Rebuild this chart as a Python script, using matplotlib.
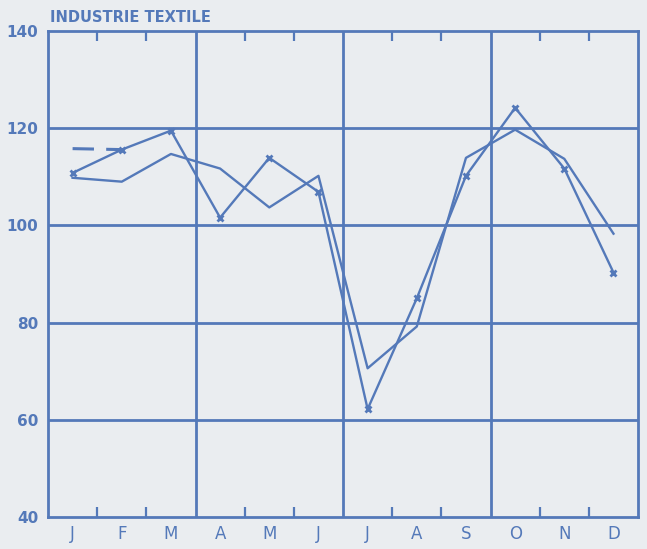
import matplotlib.pyplot as plt
from matplotlib.ticker import FixedLocator

# months and values
months = ['J', 'F', 'M', 'A', 'M', 'J', 'J', 'A', 'S', 'O', 'N', 'D']
series_x = [110.8, 115.6, 119.5, 101.6, 113.9, 106.9, 62.2, 85.0, 110.2, 124.2, 111.7, 90.3]
series_plain = [109.8, 109.0, 114.7, 111.7, 103.7, 110.2, 70.6, 79.2, 113.9, 119.7, 113.7, 98.3]
ref_months = [0, 1]
ref_values = [115.8, 115.6]
y_ticks = [40, 60, 80, 100, 120, 140]

blue = '#5479b9'
bg = '#eaedf0'

fig = plt.figure(figsize=(6.47, 5.49), dpi=100, facecolor=bg)
ax = fig.add_axes([0.0742, 0.0583, 0.912, 0.8852], facecolor=bg)

x = list(range(len(months)))
ax.plot(x, series_x, color=blue, lw=1.7, marker='x', ms=5, mew=2)
ax.plot(x, series_plain, color=blue, lw=1.7)
ax.plot(ref_months, ref_values, color=blue, lw=2.2, dashes=(7, 4))

ax.set_xlim(-0.5, 11.5)
ax.set_ylim(40, 140)

# grid: horizontal every 20, vertical at quarter boundaries
for v in y_ticks[1:-1]:
    ax.axhline(v, color=blue, lw=2, zorder=0)
for q in [2.5, 5.5, 8.5]:
    ax.axvline(q, color=blue, lw=2, zorder=0)

for s in ax.spines.values():
    s.set_color(blue)
    s.set_linewidth(2)

# small inward ticks at month boundaries
ax.xaxis.set_major_locator(FixedLocator(x))
ax.xaxis.set_minor_locator(FixedLocator([0.5, 1.5, 3.5, 4.5, 6.5, 7.5, 9.5, 10.5]))
ax.set_xticklabels(months, fontsize=12, color=blue)
ax.tick_params(axis='x', which='major', length=0, pad=6)
ax.tick_params(axis='x', which='minor', direction='in', length=7, width=1.6,
               color=blue, top=True, bottom=True)

ax.set_yticks(y_ticks)
ax.set_yticklabels([str(v) for v in y_ticks], fontsize=11, fontweight='bold', color=blue)
ax.tick_params(axis='y', length=0, pad=7)

fig.text(0.077, 0.968, 'INDUSTRIE TEXTILE', fontsize=10.5, fontweight='bold',
         color=blue, ha='left', va='center')

fig.savefig('out.png', dpi=100, facecolor=bg)
